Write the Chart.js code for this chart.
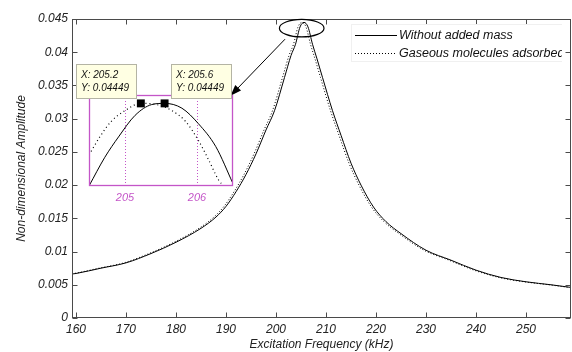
<!DOCTYPE html>
<html>
<head>
<meta charset="utf-8">
<script src="https://cdn.jsdelivr.net/npm/chart.js@4.4.0/dist/chart.umd.min.js"></script>
<style>
  html, body { margin: 0; padding: 0; background: #fff; }
  #wrap { position: relative; width: 572px; height: 352px; overflow: hidden; }
  #mainChart { position: absolute; left: 0; top: 0; }
  #insetChart { position: absolute; left: 70px; top: 58px; }
</style>
</head>
<body>
<div id="wrap">
  <canvas id="mainChart" width="572" height="352"></canvas>
  <canvas id="insetChart" width="170" height="150"></canvas>
</div>
<script>
// series names
const seriesNames = ['Without added mass', 'Gaseous molecules adsorbed'];

// main plot (kHz / amplitude)
const mainFreq = [159, 160, 165, 170, 175, 180, 185, 188, 190, 192, 194, 196, 198, 199.7, 201.7, 203, 203.9, 204.8, 205.6, 206.4, 207.3, 208.2, 209.3, 211.3, 213, 215, 217, 219.5, 222, 225, 230, 235, 240, 245, 250, 255, 259];
const withoutMass = [0.0066, 0.0067, 0.0075, 0.0083, 0.0097, 0.0114, 0.0135, 0.0152, 0.0168, 0.0190, 0.0216, 0.0247, 0.0283, 0.0312, 0.0362, 0.0395, 0.0412, 0.0438, 0.04449, 0.0438, 0.0412, 0.0390, 0.0362, 0.0312, 0.0275, 0.0233, 0.0200, 0.0167, 0.0145, 0.0127, 0.0102, 0.0087, 0.0072, 0.0061, 0.00545, 0.0050, 0.0046];
const mainFreqAdsorbed = [158.6, 159.6, 164.6, 169.6, 174.6, 179.6, 184.6, 187.6, 189.6, 191.6, 193.6, 195.6, 197.6, 199.3, 201.3, 202.6, 203.5, 204.4, 205.2, 206.0, 206.9, 207.8, 208.9, 210.9, 212.6, 214.6, 216.6, 219.1, 221.6, 224.6, 229.6, 234.6, 239.6, 244.6, 249.6, 254.6, 258.6];
const gasAdsorbed = [0.0066, 0.0067, 0.0075, 0.0083, 0.0097, 0.0114, 0.0135, 0.0152, 0.0168, 0.0190, 0.0216, 0.0247, 0.0283, 0.0312, 0.0362, 0.0395, 0.0412, 0.0438, 0.04449, 0.0438, 0.0412, 0.0390, 0.0362, 0.0312, 0.0275, 0.0233, 0.0200, 0.0167, 0.0145, 0.0127, 0.0102, 0.0087, 0.0072, 0.0061, 0.00545, 0.0050, 0.0046];

const xTicks = [160, 170, 180, 190, 200, 210, 220, 230, 240, 250];
const xTickLabels = ['160', '170', '180', '190', '200', '210', '220', '230', '240', '250'];
const yTicks = [0, 0.005, 0.01, 0.015, 0.02, 0.025, 0.03, 0.035, 0.04, 0.045];
const yTickLabels = ['0', '0.005', '0.01', '0.015', '0.02', '0.025', '0.03', '0.035', '0.04', '0.045'];

// zoomed inset around the peak
const insetFreqWithout = [204.5, 204.72, 204.91, 205.14, 205.37, 205.55, 205.79, 206.02, 206.26, 206.5];
const insetWithout = [0.0438, 0.04404, 0.04421, 0.04439, 0.04448, 0.04449, 0.04445, 0.04432, 0.04413, 0.04382];
const insetFreqAdsorbed = [204.5, 204.54, 204.65, 204.81, 205.0, 205.22, 205.44, 205.65, 205.84, 206.02, 206.16, 206.3, 206.37];
const insetAdsorbed = [0.04406, 0.0441, 0.04421, 0.04434, 0.04443, 0.04449, 0.04448, 0.04443, 0.04434, 0.04418, 0.04402, 0.04385, 0.0438];
const insetTicks = [205, 206];
const insetTickLabels = ['205', '206'];

// data tips
const tipFreq = [205.22, 205.55];
const tipAmp = [0.04449, 0.04449];
const tipText = [['X: 205.2', 'Y: 0.04449'], ['X: 205.6', 'Y: 0.04449']];

Chart.defaults.font.family = '"Liberation Sans", Arial, sans-serif';

const MAGENTA = '#c455c8';
const AXIS = '#4a4a4a';

function toPoints(xs, ys) {
  return xs.map((x, i) => ({ x: x, y: ys[i] }));
}

const mainDecor = {
  id: 'mainDecor',
  afterDraw(chart) {
    const ctx = chart.ctx;
    const a = chart.chartArea;
    const xs = chart.scales.x, ys = chart.scales.y;
    const L = Math.round(a.left) + 0.5, R = Math.round(a.right) - 0.5;
    const T = Math.round(a.top) + 0.5, B = Math.round(a.bottom) - 0.5;
    ctx.save();

    // box + inward ticks
    ctx.strokeStyle = AXIS;
    ctx.lineWidth = 1;
    ctx.strokeRect(L, T, R - L, B - T);
    ctx.beginPath();
    xTicks.forEach(v => {
      const px = Math.round(xs.getPixelForValue(v)) + 0.5;
      ctx.moveTo(px, B); ctx.lineTo(px, B - 5);
      ctx.moveTo(px, T); ctx.lineTo(px, T + 5);
    });
    yTicks.forEach(v => {
      const py = Math.round(ys.getPixelForValue(v)) + 0.5;
      ctx.moveTo(L, py); ctx.lineTo(L + 5, py);
      ctx.moveTo(R, py); ctx.lineTo(R - 5, py);
    });
    ctx.stroke();

    // axis titles
    ctx.fillStyle = '#222';
    ctx.font = 'italic 12px "Liberation Sans", Arial, sans-serif';
    ctx.textAlign = 'center';
    ctx.textBaseline = 'middle';
    ctx.fillText('Excitation Frequency (kHz)', (a.left + a.right) / 2, 345);
    ctx.save();
    ctx.translate(22, (a.top + a.bottom) / 2);
    ctx.rotate(-Math.PI / 2);
    ctx.fillText('Non-dimensional Amplitude', 0, 0);
    ctx.restore();

    // legend (cut off at the right like the original)
    ctx.save();
    ctx.beginPath();
    ctx.rect(0, 0, 562, chart.height);
    ctx.clip();
    ctx.strokeStyle = '#f0f0f0';
    ctx.strokeRect(351.5, 24.5, 260, 37);
    ctx.font = 'italic 12.5px "Liberation Sans", Arial, sans-serif';
    ctx.textAlign = 'left';
    chart.data.datasets.forEach((ds, i) => {
      const y = 35.5 + i * 18;
      ctx.strokeStyle = '#000';
      ctx.setLineDash(ds.borderDash || []);
      ctx.beginPath();
      ctx.moveTo(355, y); ctx.lineTo(397, y);
      ctx.stroke();
      ctx.setLineDash([]);
      ctx.fillStyle = '#111';
      ctx.fillText(ds.label, 399, y);
    });
    ctx.restore();

    // ellipse round the peak
    const cx = xs.getPixelForValue(205.14), cy = ys.getPixelForValue(0.04362);
    const rx = xs.getPixelForValue(205.14 + 4.46) - cx;
    const ry = cy - ys.getPixelForValue(0.04362 + 0.00132);
    ctx.strokeStyle = '#000';
    ctx.lineWidth = 1.2;
    ctx.beginPath();
    ctx.ellipse(cx, cy, rx, ry, 0, 0, Math.PI * 2);
    ctx.stroke();

    // arrow to the inset
    ctx.lineWidth = 1;
    const x0 = xs.getPixelForValue(201.8), y0 = ys.getPixelForValue(0.04196);
    const x1 = xs.getPixelForValue(190.9), y1 = ys.getPixelForValue(0.03345);
    ctx.beginPath();
    ctx.moveTo(x0, y0); ctx.lineTo(x1, y1);
    ctx.stroke();
    const ang = Math.atan2(y1 - y0, x1 - x0);
    ctx.fillStyle = '#000';
    ctx.beginPath();
    ctx.moveTo(x1, y1);
    ctx.lineTo(x1 - 11 * Math.cos(ang) + 4 * Math.sin(ang), y1 - 11 * Math.sin(ang) - 4 * Math.cos(ang));
    ctx.lineTo(x1 - 11 * Math.cos(ang) - 4 * Math.sin(ang), y1 - 11 * Math.sin(ang) + 4 * Math.cos(ang));
    ctx.closePath();
    ctx.fill();

    ctx.restore();
  }
};

new Chart(document.getElementById('mainChart'), {
  type: 'line',
  data: {
    datasets: [
      {
        label: seriesNames[0],
        data: toPoints(mainFreq, withoutMass),
        borderColor: '#000', borderWidth: 1, pointRadius: 0,
        cubicInterpolationMode: 'monotone'
      },
      {
        label: seriesNames[1],
        data: toPoints(mainFreqAdsorbed, gasAdsorbed),
        borderColor: '#000', borderWidth: 1, borderDash: [1, 2], pointRadius: 0,
        cubicInterpolationMode: 'monotone'
      }
    ]
  },
  options: {
    responsive: false,
    animation: false,
    layout: { padding: { top: 19, right: 1, left: 0, bottom: 0 } },
    plugins: { legend: { display: false }, tooltip: { enabled: false } },
    scales: {
      x: {
        type: 'linear', min: 159.2, max: 259,
        grid: { display: false, drawTicks: false },
        border: { display: false },
        afterBuildTicks: s => { s.ticks = xTicks.map(v => ({ value: v })); },
        afterFit: s => { s.height = 34; },
        ticks: {
          padding: 4, color: '#222', maxRotation: 0, autoSkip: false,
          font: { size: 12, style: 'italic' },
          callback: (v, i) => xTickLabels[i]
        }
      },
      y: {
        type: 'linear', min: 0, max: 0.045,
        grid: { display: false, drawTicks: false },
        border: { display: false },
        afterBuildTicks: s => { s.ticks = yTicks.map(v => ({ value: v })); },
        afterFit: s => { s.width = 72; },
        ticks: {
          padding: 4, color: '#222', autoSkip: false,
          font: { size: 12, style: 'italic' },
          callback: (v, i) => yTickLabels[i]
        }
      }
    }
  },
  plugins: [mainDecor]
});

const insetDecor = {
  id: 'insetDecor',
  beforeDraw(chart) {
    const a = chart.chartArea, ctx = chart.ctx;
    ctx.save();
    ctx.fillStyle = '#fff';
    ctx.fillRect(a.left, a.top, a.right - a.left, a.bottom - a.top);
    ctx.restore();
  },
  beforeDatasetsDraw(chart) {
    const a = chart.chartArea, ctx = chart.ctx, xs = chart.scales.x;
    ctx.save();
    ctx.strokeStyle = MAGENTA;
    ctx.setLineDash([1, 2]);
    ctx.beginPath();
    insetTicks.forEach(v => {
      const px = Math.round(xs.getPixelForValue(v)) + 0.5;
      ctx.moveTo(px, Math.round(a.top)); ctx.lineTo(px, Math.round(a.bottom));
    });
    ctx.stroke();
    ctx.restore();
  },
  afterDraw(chart) {
    const a = chart.chartArea, ctx = chart.ctx;
    const xs = chart.scales.x, ys = chart.scales.y;
    ctx.save();
    ctx.strokeStyle = MAGENTA;
    ctx.lineWidth = 1.3;
    ctx.strokeRect(Math.round(a.left) + 0.5, Math.round(a.top) + 0.5,
      Math.round(a.right - a.left) - 1, Math.round(a.bottom - a.top) - 1);

    // data tips
    ctx.lineWidth = 1;
    ctx.font = 'italic 10px "Liberation Sans", Arial, sans-serif';
    ctx.textBaseline = 'middle';
    ctx.textAlign = 'left';
    tipFreq.forEach((f, i) => {
      const mx = xs.getPixelForValue(f), my = ys.getPixelForValue(tipAmp[i]);
      const w = 61, h = 35;
      const bx = i === 0 ? mx - 4 - w : mx + 6;
      const by = my - 4 - h;
      ctx.fillStyle = '#ffffe3';
      ctx.fillRect(Math.round(bx), Math.round(by), w, h);
      ctx.strokeStyle = '#b4b4a4';
      ctx.strokeRect(Math.round(bx) + 0.5, Math.round(by) + 0.5, w - 1, h - 1);
      ctx.fillStyle = '#111';
      ctx.fillText(tipText[i][0], Math.round(bx) + 5, Math.round(by) + 11);
      ctx.fillText(tipText[i][1], Math.round(bx) + 5, Math.round(by) + 24);
    });
    ctx.restore();
  }
};

new Chart(document.getElementById('insetChart'), {
  type: 'line',
  data: {
    datasets: [
      {
        data: toPoints(insetFreqWithout, insetWithout),
        borderColor: '#000', borderWidth: 1, pointRadius: 0,
        cubicInterpolationMode: 'monotone'
      },
      {
        data: toPoints(insetFreqAdsorbed, insetAdsorbed),
        borderColor: '#000', borderWidth: 1.2, borderDash: [1, 3], pointRadius: 0,
        cubicInterpolationMode: 'monotone'
      },
      {
        data: toPoints(tipFreq, tipAmp),
        showLine: false, pointStyle: 'rect', pointRadius: 5.6,
        pointBackgroundColor: '#000', pointBorderColor: '#000', pointBorderWidth: 0
      }
    ]
  },
  options: {
    responsive: false,
    animation: false,
    layout: { padding: { left: 19, top: 37, right: 7, bottom: 0 } },
    plugins: { legend: { display: false }, tooltip: { enabled: false } },
    scales: {
      x: {
        type: 'linear', min: 204.5, max: 206.5,
        grid: { display: false, drawTicks: false },
        border: { display: false },
        afterBuildTicks: s => { s.ticks = insetTicks.map(v => ({ value: v })); },
        afterFit: s => { s.height = 22; },
        ticks: {
          padding: 5, color: MAGENTA, maxRotation: 0, autoSkip: false,
          font: { size: 11, style: 'italic' },
          callback: (v, i) => insetTickLabels[i]
        }
      },
      y: { display: false, min: 0.0438, max: 0.04456 }
    }
  },
  plugins: [insetDecor]
});
</script>
</body>
</html>
